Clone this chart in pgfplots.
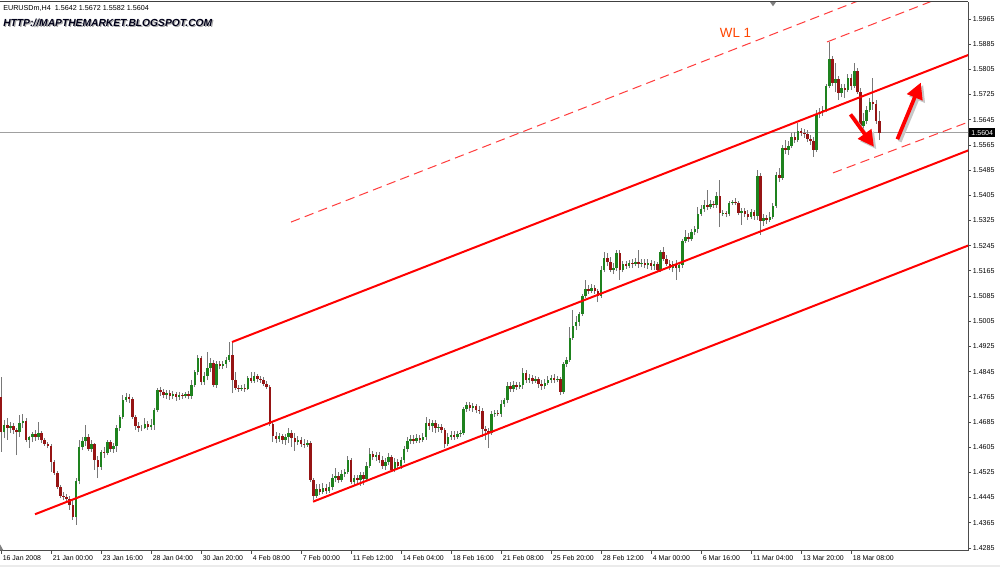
\documentclass[border=0pt]{standalone}
\usepackage{fontspec}
\setmainfont{Liberation Sans}
\usepackage{pgfplots}
\usepackage{pgfplotstable}
\pgfplotsset{compat=1.18}
\usetikzlibrary{arrows.meta}

\definecolor{bull}{RGB}{30,130,30}
\definecolor{bear}{RGB}{150,20,20}
\definecolor{wick}{RGB}{120,120,120}
\definecolor{wl}{RGB}{255,69,0}
\definecolor{dashred}{RGB}{255,60,60}
\definecolor{pline}{RGB}{160,160,160}

% EURUSD H4 bars: index, open, high, low, close
\pgfplotstableread{
i o h l c
0 1.4765 1.4828 1.4590 1.4653
1 1.4653 1.4691 1.4634 1.4676
2 1.4676 1.4698 1.4628 1.4666
3 1.4666 1.4685 1.4650 1.4672
4 1.4672 1.4682 1.4647 1.4660
5 1.4660 1.4666 1.4580 1.4653
6 1.4653 1.4707 1.4637 1.4682
7 1.4682 1.4710 1.4666 1.4688
8 1.4688 1.4698 1.4621 1.4628
9 1.4628 1.4641 1.4602 1.4637
10 1.4637 1.4653 1.4621 1.4647
11 1.4647 1.4660 1.4625 1.4637
12 1.4637 1.4685 1.4628 1.4650
13 1.4650 1.4656 1.4618 1.4628
14 1.4628 1.4634 1.4609 1.4615
15 1.4615 1.4621 1.4602 1.4609
16 1.4609 1.4615 1.4526 1.4558
17 1.4558 1.4564 1.4517 1.4523
18 1.4523 1.4529 1.4472 1.4479
19 1.4479 1.4485 1.4444 1.4450
20 1.4450 1.4463 1.4437 1.4447
21 1.4447 1.4456 1.4428 1.4441
22 1.4441 1.4450 1.4406 1.4421
23 1.4421 1.4437 1.4374 1.4383
24 1.4383 1.4507 1.4358 1.4498
25 1.4498 1.4628 1.4488 1.4606
26 1.4606 1.4637 1.4596 1.4625
27 1.4625 1.4676 1.4609 1.4637
28 1.4637 1.4647 1.4593 1.4599
29 1.4599 1.4628 1.4590 1.4615
30 1.4615 1.4618 1.4533 1.4564
31 1.4564 1.4577 1.4507 1.4542
32 1.4542 1.4596 1.4533 1.4590
33 1.4590 1.4606 1.4571 1.4587
34 1.4587 1.4628 1.4580 1.4621
35 1.4621 1.4628 1.4590 1.4599
36 1.4599 1.4618 1.4587 1.4609
37 1.4609 1.4676 1.4590 1.4666
38 1.4666 1.4707 1.4656 1.4701
39 1.4701 1.4771 1.4695 1.4755
40 1.4755 1.4777 1.4749 1.4765
41 1.4765 1.4774 1.4745 1.4758
42 1.4758 1.4765 1.4695 1.4701
43 1.4701 1.4707 1.4660 1.4672
44 1.4672 1.4685 1.4653 1.4666
45 1.4666 1.4676 1.4656 1.4666
46 1.4666 1.4698 1.4663 1.4679
47 1.4679 1.4688 1.4660 1.4669
48 1.4669 1.4695 1.4660 1.4676
49 1.4676 1.4730 1.4660 1.4723
50 1.4723 1.4793 1.4717 1.4787
51 1.4787 1.4796 1.4768 1.4781
52 1.4781 1.4790 1.4761 1.4771
53 1.4771 1.4787 1.4758 1.4777
54 1.4777 1.4787 1.4755 1.4768
55 1.4768 1.4784 1.4758 1.4774
56 1.4774 1.4781 1.4752 1.4765
57 1.4765 1.4781 1.4755 1.4771
58 1.4771 1.4777 1.4758 1.4768
59 1.4768 1.4781 1.4761 1.4774
60 1.4774 1.4784 1.4758 1.4768
61 1.4768 1.4818 1.4758 1.4803
62 1.4803 1.4850 1.4796 1.4844
63 1.4844 1.4898 1.4834 1.4888
64 1.4888 1.4895 1.4803 1.4812
65 1.4812 1.4844 1.4803 1.4831
66 1.4831 1.4907 1.4818 1.4857
67 1.4857 1.4888 1.4844 1.4872
68 1.4872 1.4882 1.4796 1.4803
69 1.4803 1.4879 1.4793 1.4869
70 1.4869 1.4879 1.4853 1.4863
71 1.4863 1.4879 1.4853 1.4869
72 1.4869 1.4891 1.4857 1.4882
73 1.4882 1.4939 1.4876 1.4898
74 1.4898 1.4939 1.4777 1.4818
75 1.4818 1.4844 1.4787 1.4793
76 1.4793 1.4803 1.4781 1.4790
77 1.4790 1.4803 1.4784 1.4793
78 1.4793 1.4806 1.4781 1.4790
79 1.4790 1.4831 1.4787 1.4825
80 1.4825 1.4844 1.4809 1.4815
81 1.4815 1.4844 1.4809 1.4831
82 1.4831 1.4837 1.4812 1.4822
83 1.4822 1.4831 1.4809 1.4818
84 1.4818 1.4828 1.4799 1.4806
85 1.4806 1.4815 1.4790 1.4796
86 1.4796 1.4803 1.4672 1.4679
87 1.4679 1.4685 1.4621 1.4641
88 1.4641 1.4653 1.4618 1.4631
89 1.4631 1.4650 1.4621 1.4641
90 1.4641 1.4647 1.4615 1.4628
91 1.4628 1.4647 1.4612 1.4637
92 1.4637 1.4666 1.4618 1.4650
93 1.4650 1.4660 1.4606 1.4634
94 1.4634 1.4650 1.4593 1.4621
95 1.4621 1.4641 1.4612 1.4628
96 1.4628 1.4637 1.4606 1.4615
97 1.4615 1.4631 1.4602 1.4612
98 1.4612 1.4628 1.4606 1.4618
99 1.4618 1.4625 1.4494 1.4501
100 1.4501 1.4507 1.4437 1.4450
101 1.4450 1.4488 1.4444 1.4472
102 1.4472 1.4488 1.4453 1.4463
103 1.4463 1.4491 1.4456 1.4475
104 1.4475 1.4488 1.4456 1.4466
105 1.4466 1.4494 1.4460 1.4479
106 1.4479 1.4520 1.4469 1.4507
107 1.4507 1.4539 1.4494 1.4514
108 1.4514 1.4526 1.4491 1.4501
109 1.4501 1.4533 1.4494 1.4520
110 1.4520 1.4536 1.4510 1.4526
111 1.4526 1.4577 1.4520 1.4564
112 1.4564 1.4571 1.4488 1.4494
113 1.4494 1.4517 1.4482 1.4507
114 1.4507 1.4517 1.4488 1.4501
115 1.4501 1.4526 1.4482 1.4517
116 1.4517 1.4526 1.4485 1.4504
117 1.4504 1.4558 1.4498 1.4545
118 1.4545 1.4602 1.4539 1.4583
119 1.4583 1.4593 1.4564 1.4574
120 1.4574 1.4590 1.4561 1.4580
121 1.4580 1.4590 1.4555 1.4564
122 1.4564 1.4577 1.4536 1.4545
123 1.4545 1.4571 1.4533 1.4558
124 1.4558 1.4587 1.4548 1.4574
125 1.4574 1.4580 1.4526 1.4533
126 1.4533 1.4571 1.4526 1.4558
127 1.4558 1.4568 1.4539 1.4545
128 1.4545 1.4574 1.4536 1.4564
129 1.4564 1.4609 1.4555 1.4599
130 1.4599 1.4637 1.4590 1.4625
131 1.4625 1.4644 1.4615 1.4631
132 1.4631 1.4644 1.4615 1.4625
133 1.4625 1.4647 1.4618 1.4634
134 1.4634 1.4644 1.4618 1.4628
135 1.4628 1.4650 1.4621 1.4637
136 1.4637 1.4701 1.4628 1.4682
137 1.4682 1.4695 1.4660 1.4672
138 1.4672 1.4691 1.4653 1.4682
139 1.4682 1.4691 1.4650 1.4666
140 1.4666 1.4679 1.4653 1.4669
141 1.4669 1.4679 1.4650 1.4660
142 1.4660 1.4666 1.4602 1.4615
143 1.4615 1.4650 1.4609 1.4637
144 1.4637 1.4656 1.4628 1.4644
145 1.4644 1.4656 1.4628 1.4637
146 1.4637 1.4656 1.4631 1.4647
147 1.4647 1.4660 1.4637 1.4650
148 1.4650 1.4733 1.4644 1.4726
149 1.4726 1.4749 1.4717 1.4739
150 1.4739 1.4749 1.4720 1.4730
151 1.4730 1.4745 1.4717 1.4736
152 1.4736 1.4742 1.4714 1.4723
153 1.4723 1.4736 1.4710 1.4720
154 1.4720 1.4730 1.4637 1.4663
155 1.4663 1.4672 1.4628 1.4656
156 1.4656 1.4666 1.4602 1.4650
157 1.4650 1.4720 1.4644 1.4710
158 1.4710 1.4723 1.4701 1.4714
159 1.4714 1.4723 1.4704 1.4710
160 1.4710 1.4755 1.4701 1.4742
161 1.4742 1.4761 1.4733 1.4755
162 1.4755 1.4812 1.4745 1.4799
163 1.4799 1.4812 1.4781 1.4790
164 1.4790 1.4815 1.4781 1.4803
165 1.4803 1.4812 1.4787 1.4796
166 1.4796 1.4812 1.4790 1.4803
167 1.4803 1.4857 1.4790 1.4841
168 1.4841 1.4850 1.4809 1.4818
169 1.4818 1.4837 1.4809 1.4825
170 1.4825 1.4834 1.4806 1.4815
171 1.4815 1.4831 1.4809 1.4822
172 1.4822 1.4828 1.4793 1.4806
173 1.4806 1.4818 1.4787 1.4799
174 1.4799 1.4822 1.4790 1.4809
175 1.4809 1.4831 1.4803 1.4818
176 1.4818 1.4834 1.4809 1.4825
177 1.4825 1.4837 1.4809 1.4818
178 1.4818 1.4831 1.4812 1.4822
179 1.4822 1.4828 1.4771 1.4781
180 1.4781 1.4876 1.4774 1.4869
181 1.4869 1.4891 1.4860 1.4882
182 1.4882 1.4987 1.4876 1.4952
183 1.4952 1.5041 1.4946 1.4990
184 1.4990 1.5022 1.4977 1.5003
185 1.5003 1.5034 1.4990 1.5028
186 1.5028 1.5092 1.5022 1.5085
187 1.5085 1.5136 1.5079 1.5107
188 1.5107 1.5120 1.5092 1.5101
189 1.5101 1.5123 1.5095 1.5111
190 1.5111 1.5120 1.5092 1.5101
191 1.5101 1.5107 1.5066 1.5085
192 1.5085 1.5180 1.5079 1.5168
193 1.5168 1.5225 1.5161 1.5206
194 1.5206 1.5222 1.5180 1.5193
195 1.5193 1.5209 1.5161 1.5168
196 1.5168 1.5190 1.5155 1.5174
197 1.5174 1.5231 1.5165 1.5222
198 1.5222 1.5231 1.5136 1.5168
199 1.5168 1.5196 1.5161 1.5187
200 1.5187 1.5196 1.5171 1.5180
201 1.5180 1.5200 1.5174 1.5190
202 1.5190 1.5203 1.5174 1.5187
203 1.5187 1.5206 1.5180 1.5193
204 1.5193 1.5231 1.5174 1.5187
205 1.5187 1.5203 1.5177 1.5190
206 1.5190 1.5203 1.5174 1.5184
207 1.5184 1.5203 1.5171 1.5190
208 1.5190 1.5200 1.5168 1.5180
209 1.5180 1.5196 1.5168 1.5187
210 1.5187 1.5193 1.5161 1.5168
211 1.5168 1.5231 1.5161 1.5225
212 1.5225 1.5241 1.5196 1.5203
213 1.5203 1.5215 1.5180 1.5187
214 1.5187 1.5200 1.5168 1.5174
215 1.5174 1.5196 1.5161 1.5187
216 1.5187 1.5200 1.5136 1.5174
217 1.5174 1.5193 1.5161 1.5184
218 1.5184 1.5266 1.5174 1.5260
219 1.5260 1.5295 1.5253 1.5273
220 1.5273 1.5285 1.5257 1.5266
221 1.5266 1.5298 1.5260 1.5288
222 1.5288 1.5308 1.5279 1.5298
223 1.5298 1.5368 1.5285 1.5346
224 1.5346 1.5374 1.5339 1.5361
225 1.5361 1.5390 1.5352 1.5374
226 1.5374 1.5422 1.5358 1.5368
227 1.5368 1.5390 1.5361 1.5377
228 1.5377 1.5387 1.5365 1.5374
229 1.5374 1.5416 1.5365 1.5403
230 1.5403 1.5454 1.5304 1.5349
231 1.5349 1.5358 1.5339 1.5350
232 1.5350 1.5355 1.5336 1.5346
233 1.5346 1.5387 1.5339 1.5381
234 1.5381 1.5390 1.5374 1.5384
235 1.5384 1.5396 1.5374 1.5381
236 1.5381 1.5387 1.5342 1.5349
237 1.5349 1.5365 1.5311 1.5355
238 1.5355 1.5365 1.5336 1.5346
239 1.5346 1.5358 1.5327 1.5336
240 1.5336 1.5361 1.5330 1.5352
241 1.5352 1.5358 1.5327 1.5339
242 1.5339 1.5485 1.5327 1.5466
243 1.5466 1.5476 1.5279 1.5323
244 1.5323 1.5346 1.5308 1.5333
245 1.5333 1.5342 1.5314 1.5327
246 1.5327 1.5352 1.5320 1.5336
247 1.5336 1.5381 1.5330 1.5371
248 1.5371 1.5479 1.5365 1.5470
249 1.5470 1.5492 1.5447 1.5460
250 1.5460 1.5565 1.5454 1.5555
251 1.5555 1.5581 1.5536 1.5549
252 1.5549 1.5577 1.5533 1.5562
253 1.5562 1.5603 1.5555 1.5590
254 1.5590 1.5606 1.5571 1.5581
255 1.5581 1.5635 1.5574 1.5609
256 1.5609 1.5619 1.5593 1.5603
257 1.5603 1.5616 1.5587 1.5600
258 1.5600 1.5612 1.5574 1.5584
259 1.5584 1.5597 1.5565 1.5577
260 1.5577 1.5590 1.5527 1.5549
261 1.5549 1.5676 1.5543 1.5663
262 1.5663 1.5682 1.5651 1.5670
263 1.5670 1.5689 1.5657 1.5676
264 1.5676 1.5759 1.5670 1.5752
265 1.5752 1.5892 1.5746 1.5838
266 1.5838 1.5847 1.5752 1.5762
267 1.5762 1.5825 1.5733 1.5774
268 1.5774 1.5784 1.5708 1.5730
269 1.5730 1.5759 1.5717 1.5746
270 1.5746 1.5759 1.5714 1.5740
271 1.5740 1.5790 1.5733 1.5777
272 1.5777 1.5790 1.5740 1.5752
273 1.5752 1.5825 1.5746 1.5800
274 1.5800 1.5809 1.5727 1.5733
275 1.5733 1.5746 1.5612 1.5625
276 1.5625 1.5666 1.5612 1.5641
277 1.5641 1.5689 1.5632 1.5676
278 1.5676 1.5714 1.5670 1.5701
279 1.5701 1.5777 1.5676 1.5695
280 1.5695 1.5708 1.5632 1.5641
281 1.5642 1.5672 1.5582 1.5604
}\eurusd

\begin{document}
\begin{tikzpicture}
\fill[white] (0pt,0pt) rectangle (750pt,425.25pt);
\path[use as bounding box] (0pt,0pt) rectangle (750pt,425.25pt);
\fill[black!8] (0pt,0pt) rectangle (750pt,1.8pt);
\begin{axis}[
    at={(0pt,12pt)}, anchor=south west,
    scale only axis, width=726pt, height=411.75pt,
    xmin=-0.32, xmax=309.4,
    ymin=1.42753, ymax=1.60189,
    axis x line*=bottom, axis y line*=right,
    axis line style={draw=black!70, line width=0.75pt},
    tick align=outside, major tick length=2.25pt,
    tick style={draw=black!70, line width=0.6pt},
    xtick={0,16,...,272},
    xticklabels={16 Jan 2008, 21 Jan 00:00, 23 Jan 16:00, 28 Jan 04:00,
      30 Jan 20:00, 4 Feb 08:00, 7 Feb 00:00, 11 Feb 12:00, 14 Feb 04:00,
      18 Feb 16:00, 21 Feb 08:00, 25 Feb 20:00, 28 Feb 12:00, 4 Mar 00:00,
      6 Mar 16:00, 11 Mar 04:00, 13 Mar 20:00, 18 Mar 08:00},
    xticklabel style={anchor=north west, inner sep=1.2pt,
      font=\fontsize{5.2}{6}\selectfont},
    ytick={1.4285,1.4365,1.4445,1.4525,1.4605,1.4685,1.4765,1.4845,1.4925,
      1.5005,1.5085,1.5165,1.5245,1.5325,1.5405,1.5485,1.5565,1.5645,1.5725,
      1.5805,1.5885,1.5965},
    scaled y ticks=false,
    yticklabel style={anchor=west, inner sep=1.2pt,
      font=\fontsize{5.3}{6}\selectfont,
      /pgf/number format/fixed, /pgf/number format/fixed zerofill,
      /pgf/number format/precision=4,
      /pgf/number format/assume math mode=true},
  ]
  % current price line
  \addplot[draw=pline, line width=0.75pt, forget plot]
    coordinates {(-1,1.5604) (311,1.5604)};
  % wicks
  \addplot[draw=none, forget plot,
    error bars/.cd, y dir=plus, y explicit, error mark=none,
    error bar style={draw=wick, line width=0.75pt}]
    table[x=i, y=l, y error plus expr=\thisrow{h}-\thisrow{l}] {\eurusd};
  % bull bodies
  \addplot[draw=none, forget plot,
    restrict expr to domain={\thisrow{c}-\thisrow{o}}{0:1},
    error bars/.cd, y dir=plus, y explicit, error mark=none,
    error bar style={draw=bull, line width=1.9pt}]
    table[x=i, y=o, y error plus expr=\thisrow{c}-\thisrow{o}] {\eurusd};
  % bear bodies
  \addplot[draw=none, forget plot,
    restrict expr to domain={\thisrow{o}-\thisrow{c}}{0.00001:1},
    error bars/.cd, y dir=plus, y explicit, error mark=none,
    error bar style={draw=bear, line width=1.9pt}]
    table[x=i, y=c, y error plus expr=\thisrow{o}-\thisrow{c}] {\eurusd};

  % channel lines
  \addplot[red, line width=1.5pt] coordinates {(10.88,1.4392) (309.6,1.5548)};
  \addplot[red, line width=1.5pt] coordinates {(73.92,1.4939) (309.6,1.5851)};
  \addplot[red, line width=1.5pt] coordinates {(99.84,1.4432) (309.6,1.5246)};
  % dashed parallels
  \addplot[dashred, line width=0.75pt, dash pattern=on 7pt off 4pt]
    coordinates {(92.8,1.5320) (309.6,1.6159)};
  \addplot[dashred, line width=0.75pt, dash pattern=on 7pt off 4pt]
    coordinates {(264.3,1.5892) (309.6,1.6067)};
  \addplot[dashred, line width=0.75pt, dash pattern=on 7pt off 4pt]
    coordinates {(266.2,1.5476) (309.6,1.5638)};

  % arrows with shadow
  \draw[black!22, line width=2.8pt, -{Triangle[length=12pt,width=12pt]},
    shift={(1.8pt,-1.8pt)}]
    (axis cs:271.8,1.5662) -- (axis cs:279.3,1.5559);
  \draw[black!22, line width=2.8pt, -{Triangle[length=12pt,width=12pt]},
    shift={(1.8pt,-1.8pt)}]
    (axis cs:286.8,1.5583) -- (axis cs:294.3,1.5763);
  \draw[red, line width=2.8pt, -{Triangle[length=12pt,width=12pt]}]
    (axis cs:271.8,1.5662) -- (axis cs:279.3,1.5559);
  \draw[red, line width=2.8pt, -{Triangle[length=12pt,width=12pt]}]
    (axis cs:286.8,1.5583) -- (axis cs:294.3,1.5763);

  \node[text=wl, font=\fontsize{10}{12}\selectfont]
    at (axis cs:235.0,1.5922) {WL 1};
  \coordinate (pl) at (axis cs:309.4,1.5604);
\end{axis}
% top border and shift markers
\draw[black!75, line width=0.8pt] (0pt,424.1pt) -- (726pt,424.1pt);
\fill[black!50] (577.5pt,423.8pt) -- (582pt,423.8pt) -- (579.75pt,420.5pt) -- cycle;
\fill[black!50] (0pt,12.4pt) -- (0pt,17pt) -- (2.6pt,12.4pt) -- cycle;
% current price box
\node[fill=black, text=white, anchor=west, inner xsep=1.8pt, inner ysep=1.3pt,
  font=\fontsize{5.3}{6}\selectfont] at ([xshift=0.6pt]pl) {1.5604};
% header
\node[anchor=west, inner sep=0, font=\fontsize{5.4}{6}\selectfont]
  at (2.25pt,419.25pt) {EURUSDm,H4\ \ 1.5642 1.5672 1.5582 1.5604};
\node[anchor=west, inner sep=0, text=black!35,
  font=\bfseries\itshape\fontsize{7.7}{9}\selectfont]
  at (3.1pt,407.2pt) {HTTP://MAPTHEMARKET.BLOGSPOT.COM};
\node[anchor=west, inner sep=0, text=black!90!blue,
  font=\bfseries\itshape\fontsize{7.7}{9}\selectfont]
  at (2.25pt,408pt) {HTTP://MAPTHEMARKET.BLOGSPOT.COM};
\end{tikzpicture}
\end{document}
